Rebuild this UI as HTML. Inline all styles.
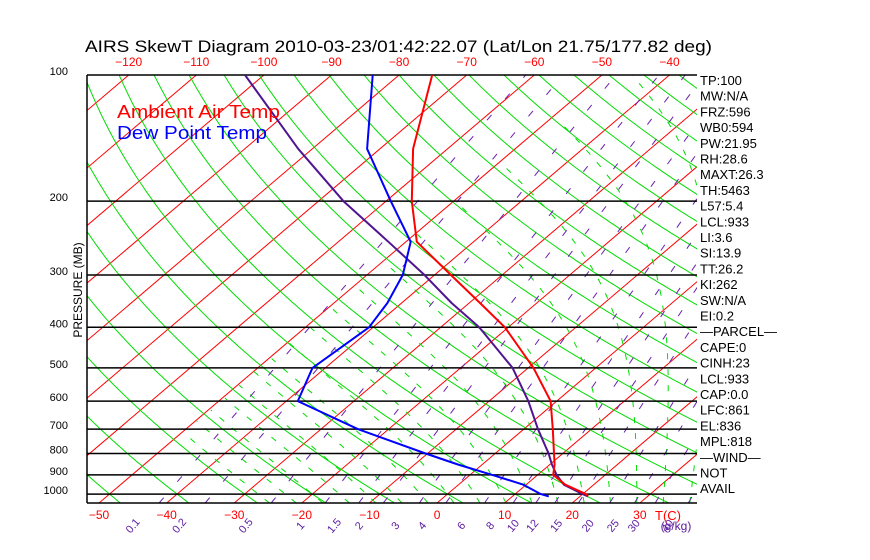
<!DOCTYPE html>
<html><head><meta charset="utf-8"><style>
html,body{margin:0;padding:0;background:#fff;width:870px;height:560px;overflow:hidden}
svg{display:block;font-family:"Liberation Sans",sans-serif}
</style></head><body>
<svg id="chart" width="870" height="560" viewBox="0 0 870 560">
<defs><clipPath id="pc"><rect x="87" y="75" width="610" height="428"/></clipPath></defs>
<g id="grid" clip-path="url(#pc)"></g>
<g id="hl"></g>
<g id="prof" clip-path="url(#pc)"></g>
<g id="txt"></g>
<text x="85" y="52" font-size="17" fill="#000" textLength="627" lengthAdjust="spacingAndGlyphs">AIRS SkewT Diagram 2010-03-23/01:42:22.07 (Lat/Lon 21.75/177.82 deg)</text>
<text x="117" y="118" font-size="18" fill="#ff0000" textLength="163" lengthAdjust="spacingAndGlyphs">Ambient Air Temp</text>
<text x="117" y="139" font-size="18" fill="#0000ff" textLength="150" lengthAdjust="spacingAndGlyphs">Dew Point Temp</text>
<text transform="translate(82,290) rotate(-90)" text-anchor="middle" font-size="12" fill="#000">PRESSURE (MB)</text>
<text x="668" y="520" font-size="13" fill="#ff0000" text-anchor="middle">T(C)</text>
<text x="676" y="530" font-size="12" fill="#5a1aa0" text-anchor="middle">(g/kg)</text>
</svg>
<script>
const pressures=[1013,1000,950,900,850,800,700,600,500,400,350,300,250,200,150,100];
const tempC=[21.2,20.5,15.8,12.3,10.7,8.7,4.3,-0.9,-9.2,-20.5,-28.4,-37.6,-48.4,-56.2,-65.1,-75.1];
const dewC=[15.4,13.8,9.6,3.3,-3.6,-10.3,-24.5,-38.3,-41.9,-40.6,-42.1,-44.7,-49.3,-59.3,-71.9,-83.9];
const parcelC=[21.2,20.0,15.6,12.8,10.3,7.9,2.1,-4.2,-12.3,-24.3,-32.6,-41.5,-52.6,-66.3,-82.1,-102.8];
const pLevels=[100,200,300,400,500,600,700,800,900,1000];
const bottomTicks=[-50,-40,-30,-20,-10,0,10,20,30];
const topTicks=[-120,-110,-100,-90,-80,-70,-60,-50,-40];
const mixRatios=[0.1,0.2,0.5,1,1.5,2,3,4,6,8,10,12,15,20,25,30,40];
const sideText=["TP:100","MW:N/A","FRZ:596","WB0:594","PW:21.95","RH:28.6","MAXT:26.3","TH:5463","L57:5.4","LCL:933","LI:3.6","SI:13.9","TT:26.2","KI:262","SW:N/A","EI:0.2","\u2014PARCEL\u2014","CAPE:0","CINH:23","LCL:933","CAP:0.0","LFC:861","EL:836","MPL:818","\u2014WIND\u2014"," NOT","AVAIL"];

const NS="http://www.w3.org/2000/svg";
const X0=87,X1=697,YT=75,YB=503;
function yP(p){return 75+182*Math.log(p/100);}
function xT(t,p){return 437+6.76*t+(YB-yP(p))*1.175;}
function mk(tag,parent,attrs){const e=document.createElementNS(NS,tag);for(const k in attrs)e.setAttribute(k,attrs[k]);parent.appendChild(e);return e;}
const grid=document.getElementById('grid'),hl=document.getElementById('hl'),prof=document.getElementById('prof'),txt=document.getElementById('txt');
function ptsStr(arr){return arr.map(a=>a[0].toFixed(1)+','+a[1].toFixed(1)).join(' ');}
const pSteps=[];for(let p=1050;p>=100;p*=0.985)pSteps.push(p);pSteps.push(100);

for(let t=-160;t<=50;t+=10){
  const l=mk('line',grid,{x1:xT(t,1050),y1:yP(1050),x2:xT(t,100),y2:yP(100),stroke:'#ff0000','stroke-width':1});
  
  
}
for(let th=-60;th<=200;th+=10){
  const K=th+273.15;const pts=pSteps.map(p=>[xT(K*Math.pow(p/1000,0.286)-273.15,p),yP(p)]);
  const l=mk('polyline',grid,{points:ptsStr(pts),fill:'none',stroke:'#00dd00','stroke-width':1});
  
  
}
function es(tc){return 6.112*Math.exp(17.67*tc/(tc+243.5));}
function moist(t0){
  const Rd=287,cp=1005,L=2.5e6,eps=0.622;
  function step(T,p,dp){const tc=T-273.15;const rs=eps*es(tc)/(p-es(tc));
    const g=(Rd*T+L*rs)/(cp+L*L*rs*eps/(Rd*T*T));return T+g*dp/p;}
  let T=t0+273.15,p=1000;const up=[];
  while(p>100){up.push([T,p]);const np=Math.max(100,p-5);T=step(T,p,np-p);p=np;}up.push([T,p]);
  T=t0+273.15;p=1000;const dn=[];
  while(p<1050){const np=Math.min(1050,p+5);T=step(T,p,np-p);p=np;dn.push([T,p]);}
  return dn.reverse().concat(up).filter(a=>a[0]-273.15>-50).map(a=>[xT(a[0]-273.15,a[1]),yP(a[1])]);
}
for(let t=-28;t<=44;t+=4){
  const pts=moist(t);if(pts.length<2)continue;
  const l=mk('polyline',grid,{points:ptsStr(pts),fill:'none',stroke:'#00dd00','stroke-width':1,'stroke-dasharray':'6 10'});
  
  
}
function tdOf(w,p){const e=w*p/(622+w);const a=Math.log(e/6.112);return 243.5*a/(17.67-a);}
mixRatios.forEach(w=>{
  const pts=[1050,100].map(p=>[xT(tdOf(w,p),p),yP(p)]);
  const l=mk('polyline',grid,{points:ptsStr(pts),fill:'none',stroke:'#6a1fb0','stroke-width':1,'stroke-dasharray':'7 21'});
  
  
  const lx=xT(tdOf(w,1150),1150)-10,ly=528;
  const t=mk('text',txt,{x:lx,y:ly,'font-size':11,fill:'#5a1aa0','text-anchor':'middle',transform:'rotate(-50 '+lx+' '+ly+')'});
  t.textContent=String(w);
  
  
});
mk('line',hl,{x1:X0,y1:YT,x2:X1,y2:YT,stroke:'#000','stroke-width':1.5});
mk('line',hl,{x1:X0,y1:YB,x2:X1,y2:YB,stroke:'#000','stroke-width':1.5});
mk('line',hl,{x1:X0,y1:YT,x2:X0,y2:YB,stroke:'#000','stroke-width':1.5});
pLevels.forEach(p=>{
  const y=yP(p);
  if(p>100){const l=mk('line',hl,{x1:X0,y1:y,x2:X1,y2:y,stroke:'#000','stroke-width':1.5});
    
    }
  const t=mk('text',txt,{x:68,y:y,'font-size':11,'text-anchor':'end',fill:'#000'});
  t.textContent=String(p);
  
  
});
bottomTicks.forEach(v=>{
  const t=mk('text',txt,{x:xT(v,1050),y:519,'font-size':12,'text-anchor':'middle',fill:'#ff0000'});
  t.textContent=v<0?'\u2212'+(-v):String(v);
  
  
});
topTicks.forEach(v=>{
  const t=mk('text',txt,{x:xT(v,100),y:66,'font-size':12,'text-anchor':'middle',fill:'#ff0000'});
  t.textContent='\u2212'+(-v);
  
  
});
sideText.forEach((s,i)=>{
  const t=mk('text',txt,{x:700,y:85+i*15.7,'font-size':13,fill:'#000','xml:space':'preserve'});
  t.textContent=s;
  
  
});
function line(vals,color,name){
  const pts=pressures.map((p,i)=>[xT(vals[i],p),yP(p)]);
  const l=mk('polyline',prof,{points:ptsStr(pts),fill:'none',stroke:color,'stroke-width':2,'stroke-linejoin':'round'});
  
  
}
line(parcelC,'#501590','parcel-path');
line(dewC,'#0000ff','dew-point-line');
line(tempC,'#ff0000','temperature-line');
</script>
</body></html>
